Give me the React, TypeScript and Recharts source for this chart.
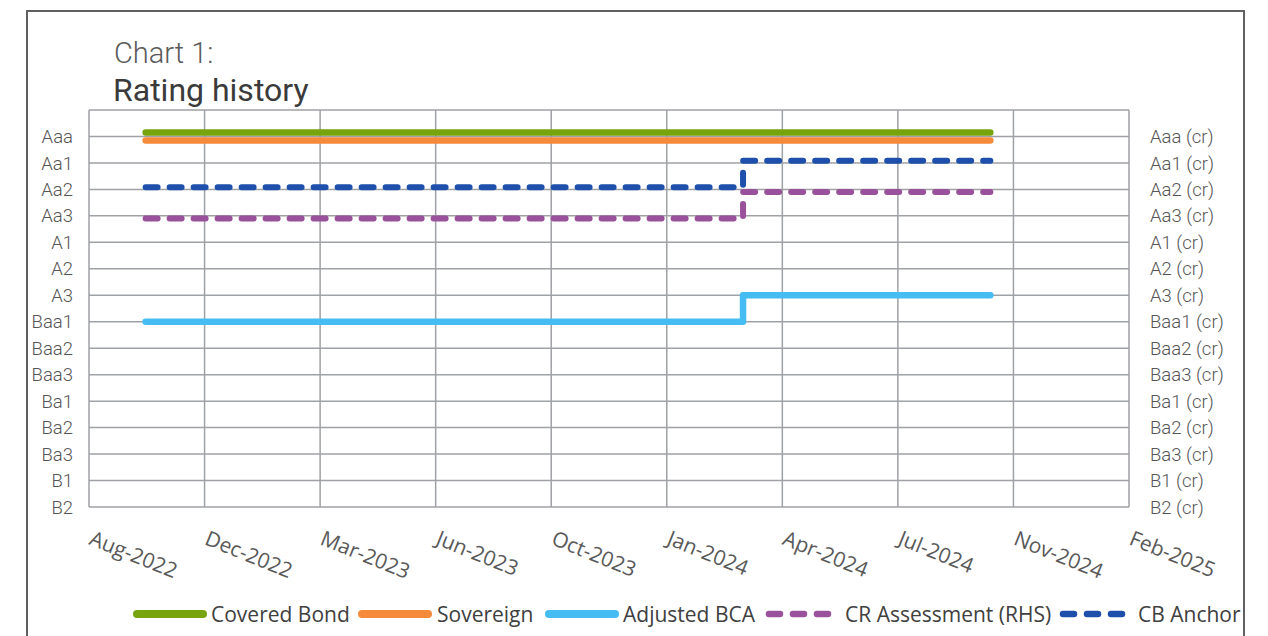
import { LineChart, Line, XAxis, YAxis, CartesianGrid } from 'recharts';

// rating scale, best to worst (value 15 = Aaa ... 1 = B2)
const ratings = ['Aaa', 'Aa1', 'Aa2', 'Aa3', 'A1', 'A2', 'A3', 'Baa1', 'Baa2', 'Baa3', 'Ba1', 'Ba2', 'Ba3', 'B1', 'B2'];
const ratingTicks = [1, 2, 3, 4, 5, 6, 7, 8, 9, 10, 11, 12, 13, 14, 15, 16];

// x axis ticks (100-day date axis)
const tickDates = ['2022-08-31', '2022-12-09', '2023-03-19', '2023-06-27', '2023-10-05', '2024-01-13', '2024-04-22', '2024-07-31', '2024-11-08', '2025-02-16'];
const tickLabels = ['Aug-2022', 'Dec-2022', 'Mar-2023', 'Jun-2023', 'Oct-2023', 'Jan-2024', 'Apr-2024', 'Jul-2024', 'Nov-2024', 'Feb-2025'];

// rating history
const dates = ['2022-10-19', '2024-03-19', '2024-10-19'];
const coveredBond = [15.15, 15.15, 15.15];
const sovereign = [14.85, 14.85, 14.85];
const adjustedBca = [8, 9, 9];
const crAssessment = [11.9, 12.9, 12.9];
const cbAnchor = [13.08, 14.08, 14.08];

const tickTimes = tickDates.map((d) => Date.parse(d));
const data = dates.map((d, i) => ({
  t: Date.parse(d),
  coveredBond: coveredBond[i],
  sovereign: sovereign[i],
  adjustedBca: adjustedBca[i],
  crAssessment: crAssessment[i],
  cbAnchor: cbAnchor[i]
}));

const series = [
  { key: 'coveredBond', name: 'Covered Bond', color: '#77A30C', dash: false, axis: 'left' },
  { key: 'sovereign', name: 'Sovereign', color: '#F58A3B', dash: false, axis: 'left' },
  { key: 'adjustedBca', name: 'Adjusted BCA', color: '#45BDF2', dash: false, axis: 'left' },
  { key: 'crAssessment', name: 'CR Assessment (RHS)', color: '#98519A', dash: true, axis: 'right' },
  { key: 'cbAnchor', name: 'CB Anchor', color: '#1E4FAA', dash: true, axis: 'left' }
];

const ratingLabel = (v: number) => ratings[15 - v] ?? '';

const XTick = ({ x, payload }: any) => {
  const i = tickTimes.indexOf(payload.value);
  const tx = x - 1;
  const ty = 544;
  return (
    <text x={tx} y={ty} transform={`rotate(22 ${tx} ${ty})`} fontSize={21} fontFamily="'Open Sans', sans-serif" fill="#595959">
      {tickLabels[i]}
    </text>
  );
};

// legend layout: sample start x, text x
const legendPos = [
  [133, 211],
  [358, 437],
  [545, 623],
  [766, 845],
  [1060, 1138]
];

export default function App() {
  const tickStyle = { fill: '#555555', fontSize: 18.5, fontWeight: 300, fontFamily: 'Roboto, sans-serif' };
  return (
    <div style={{ position: 'absolute', left: 0, top: 0, width: 1268, height: 636, overflow: 'hidden', background: '#fff' }}>
      <div style={{ position: 'absolute', left: 26, top: 10, width: 1215, height: 700, border: '2px solid #5f6062' }} />
      <div style={{ position: 'absolute', left: 0, top: 0 }}>
        <LineChart width={1268} height={636} data={data} margin={{ top: 110, right: 0, bottom: 0, left: 0 }}>
          <CartesianGrid yAxisId="left" stroke="#9EA1A5" strokeWidth={1.5} />
          <XAxis
            dataKey="t"
            type="number"
            domain={[tickTimes[0], tickTimes[tickTimes.length - 1]]}
            ticks={tickTimes}
            height={129}
            axisLine={false}
            tickLine={false}
            tickSize={0}
            tick={<XTick />}
            interval={0}
          />
          <YAxis
            yAxisId="left"
            type="number"
            domain={[1, 16]}
            ticks={ratingTicks}
            width={89}
            axisLine={false}
            tickLine={false}
            tickSize={0}
            tickMargin={16}
            tick={tickStyle}
            tickFormatter={ratingLabel}
            interval={0}
          />
          <YAxis
            yAxisId="right"
            orientation="right"
            type="number"
            domain={[1, 16]}
            ticks={ratingTicks}
            width={139}
            axisLine={false}
            tickLine={false}
            tickSize={0}
            tickMargin={21}
            tick={tickStyle}
            tickFormatter={(v: number) => (ratingLabel(v) ? `${ratingLabel(v)} (cr)` : '')}
            interval={0}
          />
          {series.map((s) => (
            <Line
              key={s.key}
              yAxisId={s.axis}
              type="stepAfter"
              dataKey={s.key}
              name={s.name}
              stroke={s.color}
              strokeWidth={s.dash ? 6 : 6.5}
              strokeDasharray={s.dash ? '12 12' : undefined}
              strokeLinecap="round"
              strokeLinejoin="round"
              dot={false}
              activeDot={false}
              isAnimationActive={false}
            />
          ))}
        </LineChart>
      </div>
      <svg width={1268} height={636} style={{ position: 'absolute', left: 0, top: 0, pointerEvents: 'none' }}>
        <text x={114} y={63} fontSize={29} fontWeight={300} fontFamily="Roboto, sans-serif" fill="#5a5a5a">
          Chart 1:
        </text>
        <text x={113} y={101} fontSize={32} fontFamily="Roboto, sans-serif" fill="#3a3a3a">
          Rating history
        </text>
        {series.map((s, i) => {
          const [lx, tx] = legendPos[i];
          return (
            <g key={s.key}>
              {s.dash ? (
                <line x1={lx + 3} x2={lx + 63} y1={614} y2={614} stroke={s.color} strokeWidth={6.5} strokeLinecap="round" strokeDasharray="11 13" />
              ) : (
                <line x1={lx + 4} x2={lx + 70} y1={614} y2={614} stroke={s.color} strokeWidth={8} strokeLinecap="round" />
              )}
              <text x={tx} y={622} fontSize={21} fontFamily="'Open Sans', sans-serif" fill="#404040">
                {s.name}
              </text>
            </g>
          );
        })}
      </svg>
    </div>
  );
}
